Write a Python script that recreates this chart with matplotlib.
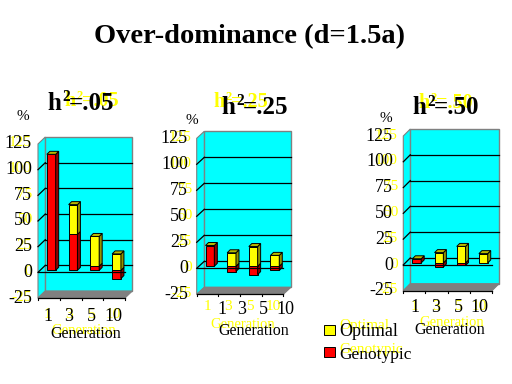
import matplotlib
matplotlib.use('Agg')
import matplotlib.pyplot as plt
from matplotlib.patches import Polygon
from matplotlib.transforms import Affine2D

plt.rcParams['font.family'] = ['Liberation Serif', 'DejaVu Serif']

generations = ['1', '3', '5', '10']
y_ticks = [-25, 0, 25, 50, 75, 100, 125]
chart_names = ['.05', '.25', '.50']
genotypic_05 = [113, 35, 4, -8]
optimal_05 = [0, 29, 29, 16]
genotypic_25 = [20, -5, -8, -4]
optimal_25 = [0, 13, 19, 10.5]
genotypic_50 = [4, -4, -2.5, 0]
optimal_50 = [0, 10, 16, 9]

W, H = 512, 384
fig = plt.figure(figsize=(W / 100, H / 100), dpi=100, facecolor='white')
px = Affine2D().scale(1, -1).translate(0, H)  # top-down pixel coordinates


def T(x, y, s, **kw):
    kw.setdefault('ha', 'center')
    kw.setdefault('va', 'center')
    return fig.text(x, y, s, transform=px, **kw)


YEL, RED, YEL_S, RED_S, YEL_T = '#FFFF00', '#FF0000', '#929200', '#920000', '#B8B800'


def seg(ax, i, lo, hi, front, side, top, ux, uy):
    x0 = i + 0.5 + 0.4 * ux - 4.4 * ux
    x1 = x0 + 8.8 * ux
    d0x, d0y = 2 * ux, 2 * uy
    dx, dy = 3 * ux, 3 * uy
    ax.bar(x0 + d0x, hi - lo, width=8.8 * ux, bottom=lo + d0y, align='edge', color=front,
           edgecolor='black', linewidth=0.7, clip_on=False, zorder=4)
    ax.add_patch(Polygon([(x1 + d0x, lo + d0y), (x1 + d0x + dx, lo + d0y + dy),
                          (x1 + d0x + dx, hi + d0y + dy), (x1 + d0x, hi + d0y)],
                         fc=side, ec='black', lw=0.7, clip_on=False, zorder=4))
    if top:
        ax.add_patch(Polygon([(x0 + d0x, hi + d0y), (x0 + d0x + dx, hi + d0y + dy),
                              (x1 + d0x + dx, hi + d0y + dy), (x1 + d0x, hi + d0y)],
                             fc=YEL_T, ec='black', lw=0.7, clip_on=False, zorder=4))


def chart(left, right, bottom, top, depx, depy, geno, opti):
    ax = fig.add_axes([left / W, 1 - bottom / H, (right - left) / W, (bottom - top) / H])
    ax.set_xlim(0, 4)
    ax.set_ylim(y_ticks[0], y_ticks[-1])
    ax.set_axis_off()
    ux = 4 / (right - left)
    uy = 150 / (bottom - top)
    dx, dy = depx * ux, depy * uy
    lo, hi = y_ticks[0], y_ticks[-1]
    ax.add_patch(Polygon([(dx, lo + dy), (4 + dx, lo + dy), (4 + dx, hi + dy), (dx, hi + dy)],
                         fc='#00FFFF', ec='#808080', lw=1, clip_on=False, zorder=1))
    ax.add_patch(Polygon([(0, lo), (dx, lo + dy), (dx, hi + dy), (0, hi)],
                         fc='#00FFFF', ec='#808080', lw=0.8, clip_on=False, zorder=1))
    ax.add_patch(Polygon([(0, lo), (4, lo), (4 + dx, lo + dy), (dx, lo + dy)],
                         fc='#808080', ec='#808080', lw=0.8, clip_on=False, zorder=1))
    for v in y_ticks[1:-1]:
        ax.plot([dx, 4 + dx], [v + dy, v + dy], color='black', lw=0.9, clip_on=False, zorder=2)
        ax.plot([0, dx], [v, v + dy], color='black', lw=0.9, clip_on=False, zorder=2)
    ax.plot([0, 4], [lo, lo], color='black', lw=0.9, clip_on=False, zorder=3)
    for i in range(5):
        ax.plot([i, i], [lo, lo - 2 * uy], color='black', lw=0.8, clip_on=False, zorder=3)
    for i, (g, o) in enumerate(zip(geno, opti)):
        if g < 0:
            seg(ax, i, g, 0, RED, RED_S, False, ux, uy)
            seg(ax, i, 0, o, YEL, YEL_S, True, ux, uy)
        else:
            if g > 0:
                seg(ax, i, 0, g, RED, RED_S, o == 0, ux, uy)
            if o > 0:
                seg(ax, i, g, g + o, YEL, YEL_S, True, ux, uy)
    ax.plot([0, 4], [0, 0], color='black', lw=0.9, clip_on=False, zorder=5)
    return ax


def sup_title(x, y, name, color='black', size=18):
    k = size / 18
    T(x, y, 'h', color=color, fontsize=size, fontweight='bold', ha='left')
    T(x + 15 * k, y - 6 * k, '2', color=color, fontsize=size * 0.62, fontweight='bold', ha='left')
    T(x + 22 * k, y, '=' + name, color=color, fontsize=size, fontweight='bold', ha='left')


def labels(name, yr, yzero, yunit, xs, ghost_dx, ghost_xs, gen_x, gen_y, ghost_gen_x, ghost_gen_y,
           title_x, title_y, ghost_tx, ghost_ty, pct_x, pct_y, lab_y):
    for v in y_ticks:
        T(yr + ghost_dx, yzero - v * yunit - 1, str(v), color=YEL, fontsize=11, ha='right')
    for x, s in zip(ghost_xs, generations):
        T(x, lab_y - 2, s, color=YEL, fontsize=11)
    T(ghost_gen_x, ghost_gen_y, 'Generation', color=YEL, fontsize=10.5)
    sup_title(ghost_tx, ghost_ty, name, color=YEL, size=14.5)
    for v in y_ticks:
        T(yr, yzero - v * yunit, str(v), color='black', fontsize=13, ha='right')
    for x, s in zip(xs, generations):
        T(x, lab_y, s, color='black', fontsize=13)
    T(gen_x, gen_y, 'Generation', color='black', fontsize=11.5)
    sup_title(title_x, title_y, name)
    T(pct_x, pct_y, '%', color='black', fontsize=11)


chart(38, 125, 298, 144, 7.3, 7, genotypic_05, optimal_05)
chart(196.7, 283.3, 294.3, 138.3, 7.6, 7, genotypic_25, optimal_25)
chart(403.3, 492, 290.7, 136, 7, 7, genotypic_50, optimal_50)

labels(chart_names[0], 32, 272.3, 1.03, [47.7, 69, 91, 113], 0, [47.7, 69, 91, 113],
       86, 334, 84, 330, 47, 103, 64, 101, 23, 117, 316.5)
labels(chart_names[1], 188, 268.3, 1.04, [221.7, 241.7, 263, 285], 4, [207, 228, 250, 273],
       253.5, 331, 243, 325, 221, 107, 213, 102, 192, 120, 309)
labels(chart_names[2], 393, 265, 1.03, [414.7, 436, 458, 479], 5, [414.7, 436, 458, 479],
       450, 330, 452, 323, 412, 108, 418, 103, 386, 118, 308)

T(250, 37, 'Over-dominance (d=1.5a)', fontsize=20.5, fontweight='bold', color='black')

leg = fig.add_axes([0, 0, 1, 1], zorder=10)
leg.set_xlim(0, W)
leg.set_ylim(H, 0)
leg.set_axis_off()
leg.patch.set_alpha(0)
leg.add_patch(Polygon([(324, 325), (335, 325), (335, 335), (324, 335)], fc=YEL, ec='black', lw=0.7))
leg.add_patch(Polygon([(324, 347), (335, 347), (335, 357), (324, 357)], fc=RED, ec='black', lw=0.7))
T(339, 326, 'Optimal', color=YEL, fontsize=11, ha='left')
T(339, 350, 'Genotypic', color=YEL, fontsize=11, ha='left')
T(339, 332, 'Optimal', color='black', fontsize=13, ha='left')
T(339, 355, 'Genotypic', color='black', fontsize=12.5, ha='left')

fig.savefig('out.png', dpi=100, facecolor='white')
